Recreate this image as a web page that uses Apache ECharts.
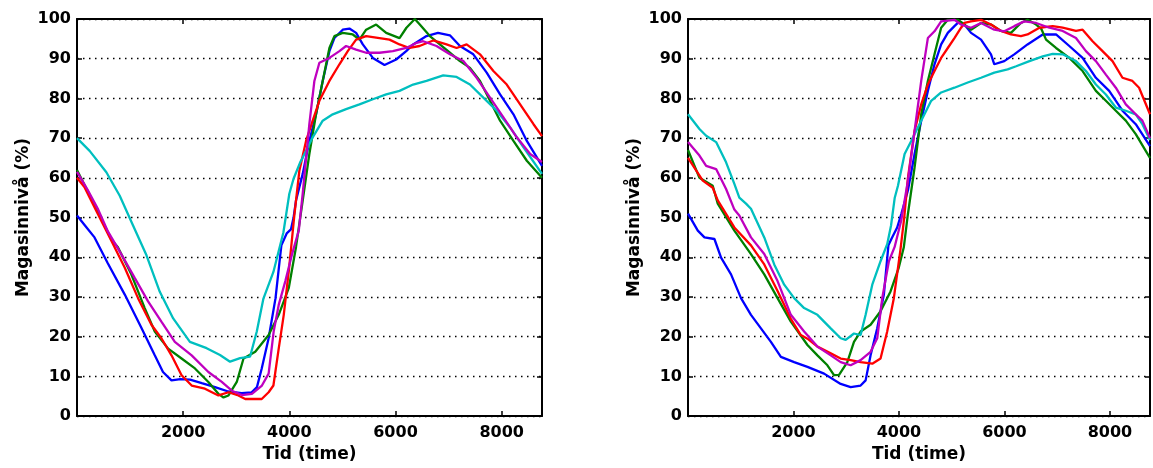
<!DOCTYPE html>
<html>
<head>
<meta charset="utf-8">
<script src="https://cdn.jsdelivr.net/npm/echarts@6/dist/echarts.min.js"></script>
<style>
html,body{margin:0;padding:0;background:#fff;}
#chart{width:1153px;height:468px;}
</style>
</head>
<body>
<div id="chart"></div>
<script>
// ---- Data (x = hour of year, y = reservoir level %) ----
const yTicks = [0,10,20,30,40,50,60,70,80,90,100];
const xTicks = [2000,4000,6000,8000];
const xName = 'Tid (time)';
const yName = 'Magasinnivå (%)';
const seriesColors = ['#0000ff','#008000','#ff0000','#00bfbf','#bf00bf'];

// Left panel
const blueLeft = [[0,50.5],[150,48],[330,45],[580,38.5],[900,30.6],[1210,22.3],[1465,15.3],[1620,11.1],[1780,9],[1950,9.3],[2130,9.2],[2350,8.3],[2600,7.3],[2850,6.2],[3100,5.8],[3290,6],[3390,7.3],[3480,12],[3610,19.6],[3740,29.7],[3800,37],[3850,43],[3950,46],[4030,47],[4080,50],[4126,54.3],[4252,61],[4377,69.3],[4503,76],[4629,84.4],[4755,91.9],[4849,95.2],[5006,97.3],[5132,97.6],[5258,96.5],[5384,93.6],[5573,90.2],[5793,88.4],[6013,89.8],[6202,91.9],[6332,93.6],[6584,95.7],[6800,96.5],[7025,95.9],[7214,93.2],[7466,91.1],[7718,86.5],[7970,81],[8222,76],[8474,69.3],[8760,63]];
const greenLeft = [[0,62],[150,58],[393,51.5],[645,44.5],[771,42.5],[1023,35.7],[1276,27.2],[1465,21.3],[1717,17],[1970,14.5],[2222,12],[2475,8.6],[2664,5.6],[2760,4.7],[2854,5.2],[3010,8.6],[3137,14.5],[3358,16.2],[3610,20.4],[3800,25.5],[3990,32.3],[4126,42.6],[4252,54.3],[4377,66],[4503,76],[4629,84.4],[4755,92.7],[4849,95.7],[5006,96.5],[5195,96.1],[5321,94.8],[5447,97.3],[5636,98.6],[5825,96.5],[6076,95.2],[6206,97.8],[6364,100],[6458,98.6],[6647,95.7],[6836,93.6],[7025,91.5],[7214,89.4],[7403,87.7],[7592,84.4],[7781,79.4],[7970,74.4],[8222,69.3],[8474,64.3],[8760,60]];
const redLeft = [[0,60],[139,57.7],[393,50.9],[645,44.2],[898,37.4],[1150,29.7],[1402,23],[1590,19.6],[1780,15.3],[1970,10.3],[2160,7.7],[2410,6.9],[2664,5.2],[2854,6],[3040,5.2],[3170,4.3],[3480,4.3],[3610,6],[3700,7.7],[3800,17],[3895,25.5],[3990,36.5],[4090,50],[4189,61.8],[4315,69.3],[4440,74.4],[4566,79.4],[4755,84.4],[4944,88.6],[5101,91.9],[5258,94.8],[5447,95.7],[5699,95.2],[5887,94.8],[6076,93.6],[6265,92.7],[6453,93.2],[6710,94.6],[6962,93.6],[7151,92.7],[7340,93.6],[7592,91.1],[7844,86.9],[8096,83.5],[8348,78.5],[8600,73.5],[8760,70.5]];
const cyanLeft = [[0,70],[238,66.8],[553,61.4],[805,55.5],[1056,48],[1309,40.5],[1560,31.3],[1812,24.6],[2127,18.7],[2442,17.1],[2694,15.4],[2883,13.7],[3072,14.6],[3261,15],[3387,21.3],[3512,29.6],[3700,36.3],[3889,46.3],[4000,56],[4078,59.7],[4204,63.9],[4252,65.1],[4440,70.2],[4629,74.4],[4818,76],[5069,77.3],[5321,78.5],[5573,79.8],[5825,81],[6076,81.9],[6332,83.5],[6584,84.4],[6899,85.8],[7151,85.4],[7403,83.5],[7655,80.2],[7907,76.9],[8159,72.7],[8411,67.7],[8760,61]];
const magentaLeft = [[0,61.5],[200,57],[400,52],[582,46.5],[834,40.8],[1087,34.8],[1339,28.9],[1590,23.8],[1843,18.7],[2160,15.3],[2475,11.1],[2727,8.6],[2917,6.4],[3106,5.3],[3295,5.6],[3484,7.7],[3610,10.7],[3705,21.3],[3800,28],[3925,34],[4052,40.8],[4178,46.7],[4252,56],[4377,73.5],[4472,84.4],[4566,89],[4755,90.2],[4944,91.9],[5069,93.2],[5258,92.3],[5447,91.5],[5699,91.5],[5950,91.9],[6202,92.7],[6400,94],[6521,94.4],[6773,93.2],[7025,91.1],[7277,89.4],[7529,85.2],[7781,80.2],[8033,75.2],[8285,70.2],[8537,66],[8760,64]];

// Right panel
const blueRight = [[0,51],[186,46.7],[312,45],[501,44.6],[627,39.9],[816,35.7],[1005,29.7],[1194,25.5],[1383,22.1],[1572,18.7],[1761,14.9],[2013,13.6],[2265,12.4],[2580,10.7],[2895,8.1],[3084,7.3],[3273,7.7],[3368,9],[3462,15.3],[3588,22.1],[3714,30.6],[3800,43],[3870,45],[3966,47.5],[4044,50.9],[4170,56.8],[4296,66],[4422,74.4],[4548,81.9],[4674,88.6],[4800,93.6],[4926,96.5],[5052,98.2],[5146,99.4],[5241,98.6],[5367,96.5],[5556,94.8],[5745,91.1],[5808,88.6],[5997,89.4],[6186,91.1],[6438,93.6],[6726,96.1],[6978,96.1],[7230,93.2],[7482,90.2],[7734,85.2],[7986,81.9],[8238,76.9],[8490,73.5],[8760,68]];
const greenRight = [[0,67],[217,60],[469,58],[564,53.5],[879,46.7],[1194,40.8],[1446,35.7],[1698,29.7],[1950,23.8],[2265,17.9],[2454,15.3],[2643,12.8],[2769,10.3],[2864,10.4],[3021,13.6],[3147,18.7],[3273,21.3],[3462,23],[3651,26.4],[3840,31.4],[3997,37.4],[4092,42.5],[4170,50.9],[4296,62.6],[4422,76],[4548,84.4],[4674,91.1],[4800,97.8],[4926,99.8],[5115,99.8],[5241,98.6],[5367,97.3],[5556,99],[5745,98.6],[5934,97],[6123,96.5],[6312,99],[6438,99.8],[6600,98.6],[6700,97.5],[6789,94.8],[6978,92.7],[7230,90.2],[7482,86.9],[7734,81.9],[7923,79.4],[8112,76.9],[8301,74.4],[8490,71],[8679,66.8],[8760,65]];
const redRight = [[0,65],[280,59.3],[469,57.5],[564,54.3],[879,47.5],[1194,43],[1446,38.2],[1698,31.5],[1950,24.5],[2139,20.4],[2265,19.5],[2454,17.5],[2706,15.8],[2895,14.5],[3084,14.1],[3273,13.6],[3494,13.2],[3651,14.5],[3777,21.3],[3903,29.7],[4029,42],[4100,50],[4170,60],[4296,71.8],[4422,78.5],[4548,83.5],[4674,86.9],[4800,90.2],[4926,92.7],[5052,95.2],[5178,97.8],[5241,99],[5367,99.4],[5556,99.8],[5745,98.6],[5934,97],[6123,96.1],[6312,95.7],[6438,96.1],[6663,97.8],[6915,98.2],[7104,97.8],[7356,97],[7482,97.3],[7671,94.4],[7860,91.9],[8049,89.4],[8238,85.2],[8427,84.4],[8553,82.7],[8760,76]];
const cyanRight = [[0,76],[217,72.3],[344,70.6],[533,69],[722,63.9],[879,58.5],[973,55],[1100,53.5],[1194,52.2],[1446,45],[1635,38.2],[1824,33.1],[2013,29.7],[2202,27.2],[2454,25.5],[2706,22.1],[2895,19.6],[2990,19.2],[3147,20.8],[3273,20.4],[3368,25.5],[3494,33.1],[3651,39],[3777,43.3],[3850,48],[3920,55],[3981,58],[4107,66],[4233,69.3],[4422,74.4],[4611,79.4],[4800,81.5],[5052,82.7],[5304,84],[5556,85.2],[5808,86.5],[6060,87.3],[6222,88.1],[6474,89.4],[6726,90.6],[6915,91.2],[7104,91.1],[7356,89.4],[7545,86.9],[7734,83.5],[7923,81],[8112,77.7],[8301,76.9],[8490,76],[8616,73.5],[8760,69.5]];
const magentaRight = [[0,69],[217,65.6],[344,63],[533,62.2],[722,57.2],[879,52],[973,50.5],[1194,45],[1446,40.8],[1698,34],[1950,25.5],[2202,21.3],[2454,17.5],[2706,15.3],[2895,13.6],[3084,12.8],[3273,14.1],[3462,16.2],[3588,19.6],[3683,29.7],[3809,39],[3918,42.6],[4044,49.3],[4170,59.3],[4296,71.8],[4422,84.4],[4548,95.2],[4674,96.9],[4800,99.4],[5052,99.8],[5178,98.6],[5367,97.8],[5556,99],[5808,97.3],[5997,96.9],[6186,98.2],[6375,99.4],[6600,99],[6852,97.8],[7104,97],[7356,95.2],[7545,91.9],[7734,89.4],[7923,86],[8112,82.7],[8301,78.5],[8490,76],[8616,74.4],[8760,70]];

const leftSeries = [blueLeft, greenLeft, redLeft, cyanLeft, magentaLeft];
const rightSeries = [blueRight, greenRight, redRight, cyanRight, magentaRight];

// ---- Chart ----
const FONT = 'DejaVu Sans';
const chart = echarts.init(document.getElementById('chart'), null, {renderer:'canvas'});

const grids = [
  {left:77, top:19, width:465, height:399},
  {left:688, top:19, width:464, height:399}
];

function xAxisFor(gi, pos) {
  const bottom = pos === 'bottom';
  return {
    type:'value', gridIndex:gi, position:pos, min:0, max:8760, interval:2000,
    name: bottom ? xName : '', nameLocation:'middle', nameGap:28,
    nameTextStyle:{fontFamily:FONT, fontWeight:'bold', fontSize:17, color:'#000'},
    axisLine:{show:true, onZero:false, lineStyle:{color:'#000', width:2}},
    axisTick:{show:true, inside:true, length:5, lineStyle:{color:'#000', width:1.5}},
    axisLabel:{show:bottom, margin:9, fontFamily:FONT, fontWeight:'bold', fontSize:16, color:'#000',
      formatter: v => xTicks.includes(v) ? String(v) : ''},
    splitLine:{show:false}
  };
}
function yAxisFor(gi, pos) {
  const left = pos === 'left';
  return {
    type:'value', gridIndex:gi, position:pos, min:yTicks[0], max:yTicks[yTicks.length-1], interval:10,
    name: left ? yName : '', nameLocation:'middle', nameRotate:90, nameGap:45,
    nameTextStyle:{fontFamily:FONT, fontWeight:'bold', fontSize:17, color:'#000'},
    axisLine:{show:true, onZero:false, lineStyle:{color:'#000', width:2}},
    axisTick:{show:true, inside:true, length:5, lineStyle:{color:'#000', width:1.5}},
    axisLabel:{show:left, margin:6, fontFamily:FONT, fontWeight:'bold', fontSize:16, color:'#000'},
    splitLine:{show:left, lineStyle:{color:'#000', width:1.3, type:[1.5,4.5]}}
  };
}

const xAxes = [xAxisFor(0,'bottom'), xAxisFor(0,'top'), xAxisFor(1,'bottom'), xAxisFor(1,'top')];
const yAxes = [yAxisFor(0,'left'), yAxisFor(0,'right'), yAxisFor(1,'left'), yAxisFor(1,'right')];

const series = [];
leftSeries.forEach((d,i) => series.push({
  type:'line', xAxisIndex:0, yAxisIndex:0, data:d, showSymbol:false, smooth:false,
  lineStyle:{color:seriesColors[i], width:2.3}, itemStyle:{color:seriesColors[i]}
}));
rightSeries.forEach((d,i) => series.push({
  type:'line', xAxisIndex:2, yAxisIndex:2, data:d, showSymbol:false, smooth:false,
  lineStyle:{color:seriesColors[i], width:2.3}, itemStyle:{color:seriesColors[i]}
}));

chart.setOption({
  animation:false,
  backgroundColor:'#fff',
  grid:grids,
  xAxis:xAxes,
  yAxis:yAxes,
  series:series
});
</script>
</body>
</html>
